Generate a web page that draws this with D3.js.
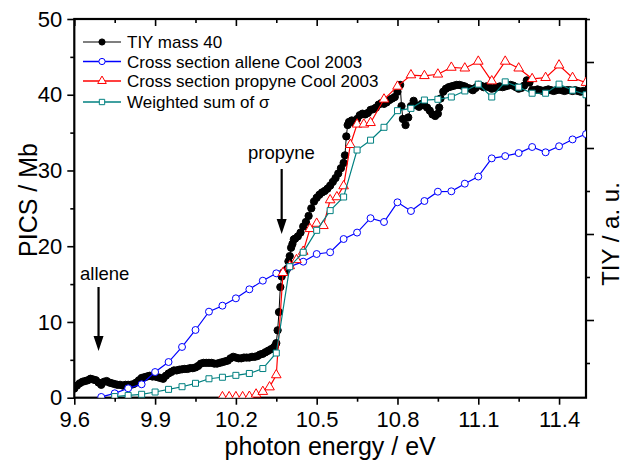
<!DOCTYPE html>
<html>
<head>
<meta charset="utf-8">
<script src="https://cdn.jsdelivr.net/npm/d3@7"></script>
<style>
  body { margin: 0; background: #fff; }
  svg { display: block; }
  text { font-family: "Liberation Sans", Arial, Helvetica, sans-serif; fill: #000; }
</style>
</head>
<body>
<svg id="chart" width="626" height="460"></svg>
<script>
// ---- data ----------------------------------------------------------------
// total ion yield, mass 40 (plotted on the PICS scale)
const tiyEnergy = [
  9.60,9.61,9.62,9.63,9.64,9.65,9.66,9.67,9.68,9.69,9.70,9.71,9.72,9.73,9.74,9.75,9.76,9.77,9.78,9.79,
  9.80,9.81,9.82,9.83,9.84,9.85,9.86,9.87,9.88,9.89,9.90,9.91,9.92,9.93,9.94,9.95,9.96,9.97,9.98,9.99,
  10.00,10.01,10.02,10.03,10.04,10.05,10.06,10.07,10.08,10.09,10.10,10.11,10.12,10.13,10.14,10.15,10.16,10.17,10.18,10.19,
  10.20,10.21,10.22,10.23,10.24,10.25,10.26,10.27,10.28,10.29,10.30,10.31,10.32,10.33,10.34,10.345,10.35,10.355,10.36,10.365,
  10.37,10.375,10.38,10.385,10.39,10.395,10.40,10.405,10.41,10.415,10.42,10.43,10.44,10.45,10.46,10.47,10.48,10.49,10.50,10.51,
  10.52,10.53,10.54,10.55,10.56,10.57,10.58,10.59,10.60,10.605,10.61,10.615,10.62,10.63,10.64,10.65,10.66,10.67,10.68,10.69,
  10.70,10.71,10.72,10.73,10.74,10.75,10.76,10.77,10.78,10.79,10.80,10.81,10.815,10.82,10.83,10.84,10.85,10.86,10.87,10.88,
  10.89,10.90,10.91,10.92,10.93,10.94,10.95,10.955,10.96,10.97,10.98,10.99,11.00,11.01,11.02,11.03,11.04,11.05,11.06,11.07,
  11.08,11.09,11.10,11.11,11.12,11.13,11.14,11.15,11.16,11.17,11.18,11.19,11.20,11.21,11.22,11.23,11.24,11.25,11.26,11.27,
  11.28,11.29,11.30,11.31,11.32,11.33,11.34,11.35,11.36,11.37,11.38,11.39,11.40,11.41,11.42,11.43,11.44,11.45,11.46,11.47,
  11.48,11.49,11.50
];
const tiyYield = [
  1.2,1.6,1.9,2.1,2.2,2.3,2.5,2.4,2.3,2.0,1.7,2.1,2.2,2.0,1.9,1.8,1.7,1.7,1.6,1.7,
  1.7,1.7,1.8,2.0,2.3,2.6,2.7,2.8,2.9,2.8,2.8,2.7,2.6,2.5,2.9,3.2,3.4,3.6,3.6,3.7,
  3.75,3.8,3.8,3.9,3.9,4.0,4.2,4.5,4.6,4.6,4.6,4.6,4.5,4.5,4.6,4.7,4.8,4.9,5.2,5.4,
  5.3,5.2,5.2,5.3,5.3,5.3,5.4,5.4,5.5,5.7,5.8,6.0,6.2,6.4,6.6,6.8,7.2,8.9,11.3,14.6,
  16.0,16.5,16.6,16.7,17.0,18.0,18.7,19.8,20.3,20.9,21.0,21.3,21.8,22.6,23.2,24.0,25.0,25.9,26.4,26.8,
  27.1,27.3,27.6,28.0,28.5,29.0,29.6,30.3,31.0,32.0,34.5,36.0,36.4,36.6,36.3,36.8,37.3,37.5,37.4,37.6,
  38.0,38.1,38.3,38.7,38.9,38.8,39.0,39.3,39.5,39.7,40.4,41.3,38.5,36.8,36.0,37.0,38.5,39.2,38.6,38.4,
  38.8,38.6,38.3,37.9,37.4,37.2,37.5,38.3,39.5,40.4,40.8,41.0,41.1,41.2,41.3,41.3,41.2,41.1,40.9,40.8,
  40.6,40.9,41.3,41.2,41.0,41.1,41.0,40.8,40.9,41.0,41.1,41.0,41.1,41.2,41.3,41.2,41.0,40.8,40.9,41.2,
  41.9,41.6,40.6,40.6,40.7,40.6,40.5,40.6,40.7,40.6,40.5,40.6,40.7,40.6,40.5,40.6,40.6,40.5,40.6,40.5,
  40.4,40.5,40.4
];

// photoionisation cross section of allene (Cool 2003), Mb
const alleneEnergy = [
  9.70,9.75,9.80,9.85,9.90,9.95,10.00,10.05,10.10,10.15,10.20,10.25,10.30,10.35,10.40,10.45,10.50,10.55,10.60,
  10.65,10.70,10.75,10.80,10.85,10.90,10.95,11.00,11.05,11.10,11.15,11.20,11.25,11.30,11.35,11.40,11.45,11.50
];
const alleneSigma = [
  0.1,0.58,1.24,1.77,3.39,4.71,6.70,8.94,11.36,12.15,13.12,14.31,15.45,16.42,17.3,17.96,18.97,19.2,20.95,
  21.8,23.7,23.2,25.8,24.65,25.97,27.2,27.25,28.26,29.2,31.6,31.9,32.3,33.1,32.4,33.2,34.1,34.8
];

// photoionisation cross section of propyne (Cool 2003), Mb
const propyneEnergy = [
  10.150,10.175,10.200,10.225,10.250,10.275,10.300,10.325,10.350,10.375,10.400,10.425,10.450,10.475,10.500,
  10.525,10.550,10.575,10.600,10.625,10.650,10.675,10.700,10.750,10.800,10.850,10.900,10.950,11.000,11.050,
  11.100,11.150,11.200,11.250,11.300,11.350,11.400,11.450,11.500
];
const propyneSigma = [
  0.1,0.1,0.1,0.1,0.15,0.45,0.8,1.4,3.0,16.5,17.4,18.2,19.3,22.3,23.0,
  22.7,26.1,26.5,27.95,33.4,36.1,36.1,36.3,39.4,41.1,42.6,42.5,42.7,43.6,43.5,
  44.4,41.8,44.4,43.5,42.1,42.25,43.9,42.25,41.6
];

// weighted sum of both cross sections, Mb
const sumEnergy = [
  9.75,9.80,9.85,9.90,9.95,10.00,10.05,10.10,10.15,10.20,10.25,10.30,10.35,10.40,10.45,10.50,10.55,10.60,
  10.65,10.70,10.75,10.80,10.85,10.90,10.95,11.00,11.05,11.10,11.15,11.20,11.25,11.30,11.35,11.40,11.45,11.50
];
const sumSigma = [
  0.15,0.3,0.45,0.75,1.1,1.45,1.9,2.5,2.7,2.95,3.2,3.85,5.9,17.3,19.2,22.1,24.7,26.5,
  32.7,34.0,35.7,37.9,38.2,39.3,39.4,39.7,40.5,41.4,39.7,41.7,41.0,40.2,40.2,41.4,40.6,40.0
];

// axis ticks
const xMajorTicks = [9.6, 9.9, 10.2, 10.5, 10.8, 11.1, 11.4];
const xMinorTicks = [9.75, 10.05, 10.35, 10.65, 10.95, 11.25];
const yMajorTicks = [0, 10, 20, 30, 40, 50];
const yMinorTicks = [5, 15, 25, 35, 45];
const tiyMajorTicks = [2, 4, 6, 8];
const tiyMinorTicks = [1, 3, 5, 7, 9];

// ionisation energies marked with arrows
const markers = [
  { label: "allene", energy: 9.69 },
  { label: "propyne", energy: 10.37 }
];

// ---- layout --------------------------------------------------------------
const svg = d3.select("#chart");
const plot = { left: 74.3, right: 586, top: 19, bottom: 397.7 };

const x = d3.scaleLinear().domain([9.6, 11.5]).range([plot.left, plot.right]);
const y = d3.scaleLinear().domain([0, 50]).range([plot.bottom, plot.top]);
const yTiy = d3.scaleLinear().domain([0.193, 9]).range([plot.bottom, plot.top]);

const defs = svg.append("defs");
defs.append("clipPath").attr("id", "plotClip")
  .append("rect")
  .attr("x", plot.left).attr("y", plot.top - 10)
  .attr("width", plot.right - plot.left).attr("height", plot.bottom - plot.top + 10);

// ---- axes ----------------------------------------------------------------
function styleAxis(g) {
  g.select(".domain").remove();
  g.selectAll(".tick line").attr("stroke", "#000").attr("stroke-width", 1.6);
  g.selectAll(".tick text").style("font-size", "22px").attr("fill", "#000");
}

svg.append("g").attr("transform", `translate(0,${plot.bottom})`)
  .call(d3.axisBottom(x).tickValues(xMajorTicks).tickSize(7).tickPadding(7).tickFormat(d3.format(".1f")))
  .call(styleAxis);
svg.append("g").attr("transform", `translate(0,${plot.bottom})`)
  .call(d3.axisBottom(x).tickValues(xMinorTicks).tickSize(4).tickFormat(""))
  .call(styleAxis);
svg.append("g").attr("transform", `translate(0,${plot.top})`)
  .call(d3.axisTop(x).tickValues(xMajorTicks).tickSize(-7).tickFormat(""))
  .call(styleAxis);
svg.append("g").attr("transform", `translate(0,${plot.top})`)
  .call(d3.axisTop(x).tickValues(xMinorTicks).tickSize(-4).tickFormat(""))
  .call(styleAxis);

svg.append("g").attr("transform", `translate(${plot.left},0)`)
  .call(d3.axisLeft(y).tickValues(yMajorTicks).tickSize(7).tickPadding(5).tickFormat(d3.format("d")))
  .call(styleAxis);
svg.append("g").attr("transform", `translate(${plot.left},0)`)
  .call(d3.axisLeft(y).tickValues(yMinorTicks).tickSize(4).tickFormat(""))
  .call(styleAxis);

svg.append("g").attr("transform", `translate(${plot.right},0)`)
  .call(d3.axisRight(yTiy).tickValues(tiyMajorTicks).tickSize(8).tickFormat(""))
  .call(styleAxis);
svg.append("g").attr("transform", `translate(${plot.right},0)`)
  .call(d3.axisRight(yTiy).tickValues(tiyMinorTicks).tickSize(4).tickFormat(""))
  .call(styleAxis);

// frame
svg.append("rect")
  .attr("x", plot.left).attr("y", plot.top)
  .attr("width", plot.right - plot.left).attr("height", plot.bottom - plot.top)
  .attr("fill", "none").attr("stroke", "#000").attr("stroke-width", 2.2);

// axis titles
svg.append("text")
  .attr("x", (plot.left + plot.right) / 2).attr("y", 455)
  .attr("text-anchor", "middle").style("font-size", "25px")
  .text("photon energy / eV");
svg.append("text")
  .attr("transform", `translate(37,200) rotate(-90)`)
  .attr("text-anchor", "middle").style("font-size", "25px")
  .text("PICS / Mb");
svg.append("text")
  .attr("transform", `translate(619,234) rotate(-90)`)
  .attr("text-anchor", "middle").style("font-size", "24px")
  .text("TIY / a. u.");

// ---- series --------------------------------------------------------------
const series = [
  { key: "tiy", label: "TIY mass 40", color: "#000000", energy: tiyEnergy, value: tiyYield,
    symbol: d3.symbolCircle, size: 42, fill: "#000000", lineWidth: 1 },
  { key: "allene", label: "Cross section allene Cool 2003", color: "#0000ff", energy: alleneEnergy, value: alleneSigma,
    symbol: d3.symbolCircle, size: 38, fill: "#ffffff", lineWidth: 1.2 },
  { key: "propyne", label: "Cross section propyne Cool 2003", color: "#ff0000", energy: propyneEnergy, value: propyneSigma,
    symbol: d3.symbolTriangle, size: 40, fill: "#ffffff", lineWidth: 1.2 },
  { key: "sum", label: "Weighted sum of \u03c3", color: "#008080", energy: sumEnergy, value: sumSigma,
    symbol: d3.symbolSquare, size: 36, fill: "#ffffff", lineWidth: 1.2 }
];

const line = d3.line().x(d => x(d[0])).y(d => y(d[1]));
const layer = svg.append("g").attr("clip-path", "url(#plotClip)");

series.forEach(s => {
  const pts = s.energy.map((e, i) => [e, s.value[i]]);
  const g = layer.append("g").attr("class", "series-" + s.key);
  g.append("path").datum(pts)
    .attr("d", line).attr("fill", "none")
    .attr("stroke", s.color).attr("stroke-width", s.lineWidth);
  g.selectAll("path.pt").data(pts).join("path")
    .attr("class", "pt")
    .attr("transform", d => `translate(${x(d[0])},${y(d[1])})`)
    .attr("d", d3.symbol(s.symbol, s.size))
    .attr("fill", s.fill).attr("stroke", s.color).attr("stroke-width", 1);
});

// ---- ionisation energy arrows ----------------------------------------------
const arrowSpec = {
  allene: { textY: 280, top: 287, tip: 351, textX: 80 },
  propyne: { textY: 159, top: 169, tip: 234, textX: 248 }
};
markers.forEach(m => {
  const a = arrowSpec[m.label];
  const ax = x(m.energy);
  svg.append("text").attr("x", a.textX).attr("y", a.textY)
    .style("font-size", "18.5px").text(m.label);
  svg.append("line")
    .attr("x1", ax).attr("x2", ax).attr("y1", a.top).attr("y2", a.tip - 12)
    .attr("stroke", "#000").attr("stroke-width", 2.2);
  svg.append("path")
    .attr("d", `M${ax - 5},${a.tip - 15} L${ax + 5},${a.tip - 15} L${ax},${a.tip} Z`)
    .attr("fill", "#000");
});

// ---- legend --------------------------------------------------------------
const legendRows = [42, 61.5, 81, 102];
const legend = svg.append("g");
series.forEach((s, i) => {
  const ly = legendRows[i];
  legend.append("line")
    .attr("x1", 83).attr("x2", 121).attr("y1", ly).attr("y2", ly)
    .attr("stroke", s.color).attr("stroke-width", s.lineWidth + 0.2);
  legend.append("path")
    .attr("transform", `translate(102,${ly})`)
    .attr("d", d3.symbol(s.symbol, s.key === "tiy" ? 30 : s.size * 0.8))
    .attr("fill", s.fill).attr("stroke", s.color).attr("stroke-width", 1);
  legend.append("text")
    .attr("x", 127).attr("y", ly + 6)
    .style("font-size", "17px").text(s.label);
});
</script>
</body>
</html>
